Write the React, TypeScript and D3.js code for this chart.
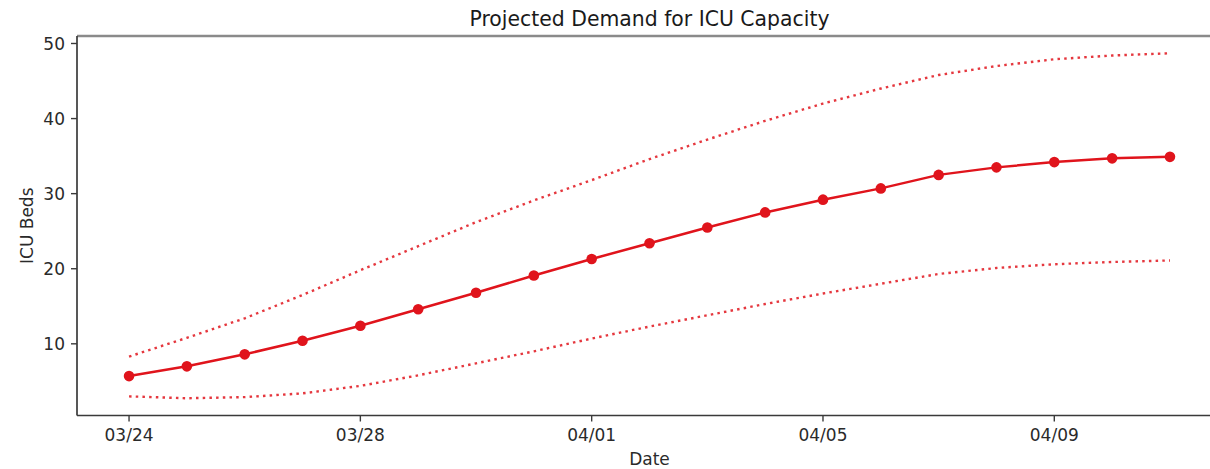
import React from "react";
import * as d3 from "d3";

// Projection window: one value per day starting 03/24
const startDate = new Date(2020, 2, 24);
const dayCount = 19;

// Median projected ICU beds (plotted with markers)
const projected = [5.7, 7.0, 8.6, 10.4, 12.4, 14.6, 16.8, 19.1, 21.3, 23.4, 25.5, 27.5, 29.2, 30.7, 32.5, 33.5, 34.2, 34.7, 34.9];
// Upper bound of the projection band
const upperBound = [8.3, 10.8, 13.4, 16.5, 19.8, 23.0, 26.2, 29.1, 31.8, 34.6, 37.2, 39.7, 42.0, 44.0, 45.8, 47.0, 47.9, 48.4, 48.7];
// Lower bound of the projection band
const lowerBound = [3.0, 2.75, 2.9, 3.4, 4.4, 5.8, 7.4, 9.0, 10.7, 12.3, 13.8, 15.3, 16.7, 18.0, 19.3, 20.1, 20.6, 20.9, 21.1];

// Tick positions
const xTickOffsets = [0, 4, 8, 12, 16];
const yTickValues = [10, 20, 30, 40, 50];

const titleText = "Projected Demand for ICU Capacity";
const xLabel = "Date";
const yLabel = "ICU Beds";

const W = 1210;
const H = 469;
const plot = { left: 77, top: 36, right: 1222, bottom: 415.5 };
const FONT = "'DejaVu Sans', sans-serif";
const RED = "#e0141c";
const AXIS = "#3a3a3a";

const dates = d3.range(dayCount).map((i) => d3.timeDay.offset(startDate, i));

export default function App() {
  const first = dates[0].getTime();
  const last = dates[dates.length - 1].getTime();
  const xPad = (last - first) * 0.05;
  const x = d3
    .scaleTime()
    .domain([new Date(first - xPad), new Date(last + xPad)])
    .range([plot.left, plot.right]);

  const all = [...projected, ...upperBound, ...lowerBound];
  const yMin = d3.min(all) as number;
  const yMax = d3.max(all) as number;
  const yPad = (yMax - yMin) * 0.05;
  const y = d3
    .scaleLinear()
    .domain([yMin - yPad, yMax + yPad])
    .range([plot.bottom, plot.top]);

  const line = d3
    .line<number>()
    .x((_, i) => x(dates[i]))
    .y((v) => y(v));

  const fmt = d3.timeFormat("%m/%d");
  const xTicks = xTickOffsets.map((o) => dates[o]);

  return (
    <svg
      width={W}
      height={H}
      style={{ position: "absolute", left: 0, top: 0, background: "#fff" }}
      fontFamily={FONT}
    >
      <defs>
        <clipPath id="plot-clip">
          <rect x={plot.left} y={plot.top} width={plot.right - plot.left} height={plot.bottom - plot.top} />
        </clipPath>
      </defs>

      <g clipPath="url(#plot-clip)">
        <path d={line(upperBound) || ""} fill="none" stroke={RED} strokeWidth={2.4} strokeDasharray="2.5 4.2" opacity={0.85} />
        <path d={line(lowerBound) || ""} fill="none" stroke={RED} strokeWidth={2.4} strokeDasharray="2.5 4.2" opacity={0.85} />
        <path d={line(projected) || ""} fill="none" stroke={RED} strokeWidth={2.5} strokeLinejoin="round" />
        {projected.map((v, i) => (
          <circle key={i} cx={x(dates[i])} cy={y(v)} r={5.3} fill={RED} />
        ))}
      </g>

      {/* spines */}
      <line x1={plot.left} x2={W} y1={plot.top} y2={plot.top} stroke="#8a8a8a" strokeWidth={2.6} />
      <line x1={plot.left} x2={W} y1={plot.bottom} y2={plot.bottom} stroke={AXIS} strokeWidth={1.6} />
      <line x1={plot.left} x2={plot.left} y1={plot.top} y2={plot.bottom} stroke={AXIS} strokeWidth={1.7} />

      {/* x axis */}
      {xTicks.map((d, i) => (
        <g key={i} transform={`translate(${x(d)},${plot.bottom})`}>
          <line y1={0} y2={6} stroke={AXIS} strokeWidth={1.4} />
          <text y={25.5} textAnchor="middle" fontSize={17} fill="#2a2a2a">
            {fmt(d)}
          </text>
        </g>
      ))}
      <text x={(plot.left + plot.right) / 2} y={465} textAnchor="middle" fontSize={17} fill="#2a2a2a">
        {xLabel}
      </text>

      {/* y axis */}
      {yTickValues.map((v) => (
        <g key={v} transform={`translate(${plot.left},${y(v)})`}>
          <line x1={-6} x2={0} stroke={AXIS} strokeWidth={1.4} />
          <text x={-12} dy="0.36em" textAnchor="end" fontSize={17} fill="#2a2a2a">
            {v}
          </text>
        </g>
      ))}
      <text
        transform={`translate(33,${(plot.top + plot.bottom) / 2}) rotate(-90)`}
        textAnchor="middle"
        fontSize={17}
        fill="#2a2a2a"
      >
        {yLabel}
      </text>

      <text x={(plot.left + plot.right) / 2} y={25.5} textAnchor="middle" fontSize={20.4} fill="#1a1a1a">
        {titleText}
      </text>
    </svg>
  );
}
